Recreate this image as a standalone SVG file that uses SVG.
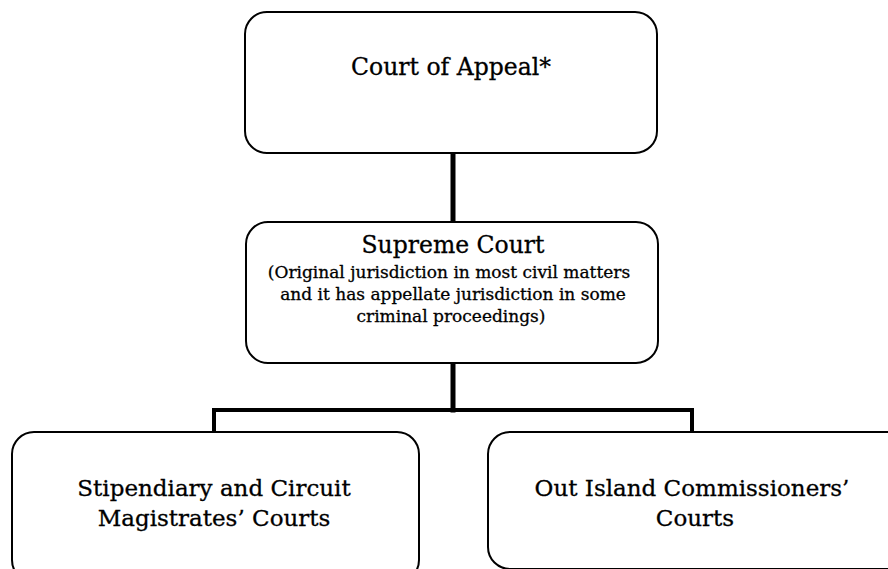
<svg xmlns="http://www.w3.org/2000/svg" width="888" height="569" viewBox="0 0 888 569">
<style>
.box{fill:#fff;stroke:#000;stroke-width:2}
.t{font-family:"DejaVu Serif","Liberation Serif",serif;fill:#000;text-anchor:middle;stroke:#000;stroke-width:0.3}
.big{font-size:23.5px}
.small{font-size:17px}
.mid{font-size:23px}
.con{stroke:#000;fill:none;stroke-linecap:square;stroke-linejoin:miter}
</style>
<rect width="888" height="569" fill="#fff"/>
<g id="connectors">
<line class="con" x1="453" y1="154" x2="453" y2="221" stroke-width="5"/>
<line class="con" x1="453" y1="364" x2="453" y2="410" stroke-width="5"/>
<polyline class="con" points="214,432 214,410 692,410 692,432" stroke-width="4"/>
</g>
<g id="court-of-appeal">
<rect class="box" x="245" y="12" width="412" height="141" rx="22"/>
<text class="t big" x="451" y="75">Court of Appeal*</text>
</g>
<g id="supreme-court">
<rect class="box" x="246" y="222" width="412" height="141" rx="22"/>
<text class="t big" x="453" y="253">Supreme Court</text>
<text class="t small" x="449" y="278">(Original jurisdiction in most civil matters</text>
<text class="t small" x="453" y="300">and it has appellate jurisdiction in some</text>
<text class="t small" x="451" y="322">criminal proceedings)</text>
</g>
<g id="stipendiary">
<rect class="box" x="12" y="432" width="407" height="150" rx="22"/>
<text class="t mid" x="214" y="496">Stipendiary and Circuit</text>
<text class="t mid" x="214" y="526">Magistrates’ Courts</text>
</g>
<g id="out-island">
<rect class="box" x="488" y="432" width="420" height="137" rx="22"/>
<text class="t mid" x="692" y="496">Out Island Commissioners’</text>
<text class="t mid" x="695" y="526">Courts</text>
</g>
</svg>
